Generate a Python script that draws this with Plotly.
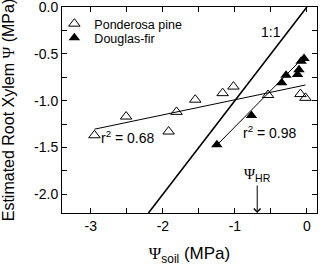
import plotly.graph_objects as go

# Ponderosa pine (open triangles)
pine_x = [-2.95, -2.51, -1.92, -1.81, -1.55, -1.17, -1.02, -0.54, -0.09, -0.02]
pine_y = [-1.37, -1.17, -1.33, -1.12, -0.99, -0.92, -0.85, -0.94, -0.93, -0.97]
# Douglas-fir (filled triangles)
fir_x = [-1.25, -0.77, -0.35, -0.29, -0.13, -0.11, -0.08, -0.04]
fir_y = [-1.47, -1.16, -0.81, -0.73, -0.72, -0.67, -0.58, -0.55]
# regression lines and 1:1 line
pine_fit_x = [-2.95, -0.02]
pine_fit_y = [-1.305, -0.833]
fir_fit_x = [-1.25, -0.05]
fir_fit_y = [-1.475, -0.54]
one_x = [-2.2, 0.0]
one_y = [-2.2, 0.0]
psi_hr = -0.69

FONT = "Liberation Sans, Arial, sans-serif"
PSI = '<span style="font-family:Liberation Serif">Ψ</span>'

fig = go.Figure()
fig.add_trace(go.Scatter(x=one_x, y=one_y, mode="lines",
                         line=dict(color="black", width=1.6), showlegend=False))
fig.add_trace(go.Scatter(x=pine_fit_x, y=pine_fit_y, mode="lines",
                         line=dict(color="black", width=1), showlegend=False))
fig.add_trace(go.Scatter(x=fir_fit_x, y=fir_fit_y, mode="lines",
                         line=dict(color="black", width=1), showlegend=False))
fig.add_trace(go.Scatter(x=pine_x, y=pine_y, mode="markers", name="Ponderosa pine",
                         legend="legend",
                         marker=dict(symbol="triangle-up-open", size=10, color="black",
                                     line=dict(width=1, color="black"))))
fig.add_trace(go.Scatter(x=fir_x, y=fir_y, mode="markers", name="Douglas-fir",
                         legend="legend2",
                         marker=dict(symbol="triangle-up", size=10, color="black")))

fig.add_annotation(x=-2.49, y=-1.39, text="r<sup>2</sup> = 0.68", showarrow=False,
                   font=dict(size=14, color="black", family=FONT))
fig.add_annotation(x=-0.51, y=-1.34, text="r<sup>2</sup> = 0.98", showarrow=False,
                   font=dict(size=14, color="black", family=FONT))
fig.add_annotation(x=-0.50, y=-0.27, text="1:1", showarrow=False,
                   font=dict(size=14, color="black", family=FONT))
fig.add_annotation(x=psi_hr, y=-2.2, text=PSI + "<sub>HR</sub>", showarrow=True,
                   ax=0, ay=-38, arrowhead=4, arrowsize=1.3, arrowwidth=1,
                   arrowcolor="black", standoff=0,
                   font=dict(size=15, color="black", family=FONT))

axis_common = dict(showline=True, linecolor="black", linewidth=1, mirror="allticks",
                   ticks="inside", ticklen=5, tickwidth=1, tickcolor="black",
                   showgrid=False, zeroline=False,
                   ticklabeloverflow="allow",
                   tickfont=dict(size=14, color="black", family=FONT))
fig.update_xaxes(range=[-3.4, 0.14], tickvals=[-3, -2, -1, 0], ticktext=["-3", "-2", "-1", "0"],
                 minor=dict(dtick=0.5, tick0=0, ticks="inside", ticklen=5, tickcolor="black", showgrid=False),
                 automargin=True,
                 title=dict(text=PSI + "<sub>soil</sub> (MPa)", standoff=14,
                            font=dict(size=17, color="black", family=FONT)),
                 **axis_common)
fig.update_yaxes(range=[-2.2, 0.0], tickvals=[0, -0.5, -1, -1.5, -2],
                 ticktext=["0.0", "-0.5", "-1.0", "-1.5", "-2.0"],
                 minor=dict(dtick=0.25, tick0=0, ticks="inside", ticklen=5, tickcolor="black", showgrid=False),
                 automargin=False,
                 title=dict(text="Estimated Root Xylem " + PSI + " (MPa)",
                            font=dict(size=16, color="black", family=FONT)),
                 **axis_common)

legend_common = dict(x=-0.03, xanchor="left", yanchor="top", bgcolor="rgba(0,0,0,0)",
                     font=dict(size=12.5, color="black", family=FONT))
fig.update_layout(width=323, height=269, margin=dict(l=62, r=6, t=7, b=56),
                  plot_bgcolor="white", paper_bgcolor="white",
                  font=dict(family=FONT, color="black"),
                  legend=dict(y=0.99, **legend_common),
                  legend2=dict(y=0.922, **legend_common))
fig.write_html("out.html", config={"displayModeBar": False},
               post_script="document.body.style.margin='0';")
